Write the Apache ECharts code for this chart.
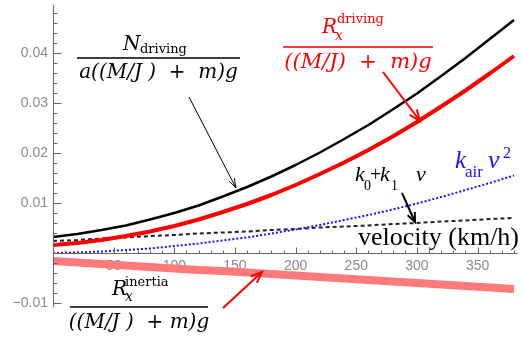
<!DOCTYPE html>
<html><head><meta charset="utf-8">
<script src="https://cdn.jsdelivr.net/npm/echarts@6/dist/echarts.min.js"></script>
<style>html,body{margin:0;padding:0;background:#fff;}#c{width:521px;height:341px;}</style>
</head><body><div id="c"></div>
<script>
// ---- data ----
const velocity = [0,20,40,60,80,100,120,140,160,180,200,220,240,260,280,300,320,340,360,380];
const nDriving = [0.0032,0.0038,0.0046,0.0055,0.0067,0.0080,0.0095,0.0113,0.0132,0.0153,0.0176,0.0201,0.0228,0.0256,0.0287,0.0319,0.0354,0.0390,0.0428,0.0466];
const rDriving = [0.0016,0.0020,0.0026,0.0034,0.0043,0.0054,0.0067,0.0082,0.0098,0.0116,0.0136,0.0158,0.0181,0.0206,0.0233,0.0262,0.0293,0.0325,0.0359,0.0394];
const rolling  = [0.0024,0.0026,0.0029,0.0031,0.0034,0.0036,0.0039,0.0041,0.0043,0.0046,0.0048,0.0051,0.0053,0.0055,0.0058,0.0060,0.0063,0.0065,0.0068,0.0070];
const airDrag  = [0,0.0001,0.0003,0.0006,0.0009,0.0014,0.0019,0.0025,0.0031,0.0039,0.0047,0.0056,0.0066,0.0076,0.0087,0.0099,0.0112,0.0126,0.0140,0.0155];
const rInertia = [-0.0016,-0.0019,-0.0022,-0.0025,-0.0028,-0.0031,-0.0034,-0.0036,-0.0039,-0.0042,-0.0045,-0.0048,-0.0051,-0.0054,-0.0057,-0.0060,-0.0063,-0.0066,-0.0069,-0.0072];
const xTickLabels = [50,100,150,200,250,300,350];
const yTickLabels = [-0.01,0.01,0.02,0.03,0.04];
const xAxisRange = [0,383];          // drawn extent of the horizontal axis
const yAxisRange = [-0.0108,0.0496]; // drawn extent of the vertical axis

const pairs = arr => velocity.map((v,i)=>[v,arr[i]]);

const DV = '"DejaVu Serif"';
const LS = '"Liberation Serif"';
function tx(str, x, baseline, size, family, fstyle, color, align){
  return {type:'text', x:x, y:baseline - 0.34*size, z:100,
    style:{text:str, font:(fstyle||'normal')+' '+size+'px '+family, fill:color||'#000',
      align:align||'left', verticalAlign:'middle'}};
}
function hline(x1,x2,y,color){
  return {type:'line', z:100, shape:{x1:x1,y1:y,x2:x2,y2:y}, style:{stroke:color, lineWidth:1.3}};
}
function arrow(x1,y1,x2,y2,color,w,len,ang){
  const a = Math.atan2(y2-y1,x2-x1);
  const p1=[x2-len*Math.cos(a-ang), y2-len*Math.sin(a-ang)];
  const p2=[x2-len*Math.cos(a+ang), y2-len*Math.sin(a+ang)];
  return [
    {type:'line', z:100, shape:{x1:x1,y1:y1,x2:x2,y2:y2}, style:{stroke:color,lineWidth:w}},
    {type:'polyline', z:100, shape:{points:[p1,[x2,y2],p2]}, style:{stroke:color,lineWidth:w,fill:null}}
  ];
}

const RED = '#ff0000', BLUE = '#1515ff';
const graphics = [].concat(
  // N_driving fraction
  [tx('N',123,52,20,DV,'italic','#000'),
   tx('driving',140,54,13,DV,'normal','#000'),
   hline(77,240,58,'#000'),
   tx('a((M/J )  +  m)g',158.5,80,20,DV,'italic','#000','center')],
  // R_x^driving fraction
  [tx('R',322,35,20,DV,'italic',RED),
   tx('x',335,41,14,DV,'italic',RED),
   tx('driving',337,24,13,DV,'normal',RED),
   hline(283,433,47,RED),
   tx('((M/J)  +  m)g',358,70,21,DV,'italic',RED,'center')],
  // R_x^inertia fraction
  [tx('R',112,297,20,DV,'italic','#000'),
   tx('x',125,302,14,DV,'italic','#000'),
   tx('inertia',125,287,13,DV,'normal','#000'),
   hline(70,208,307,'#000'),
   tx('((M/J )  + m)g',139,330,20,DV,'italic','#000','center')],
  // k0 + k1 v
  [tx('k',355,183,22,LS,'italic','#000'),
   tx('0',364,191,14,LS,'normal','#000'),
   tx('+',370,183,20,LS,'normal','#000'),
   tx('k',380,183,22,LS,'italic','#000'),
   tx('1',391,191,14,LS,'normal','#000'),
   tx('v',416,183,22,LS,'italic','#000')],
  // k_air v^2
  [tx('k',455,170,25,LS,'italic',BLUE),
   tx('air',465,178,17,LS,'normal',BLUE),
   tx('v',488,170,26,LS,'italic',BLUE),
   tx('2',503,159,16,LS,'normal',BLUE)],
  // axis name
  [tx('velocity (km/h)',358,247,26,LS,'normal','#000')],
  arrow(189,97,236,188,'#000',1,10,0.3),
  arrow(383,72,420,121,RED,2,12,0.38),
  arrow(223,308,262,272,RED,2,12,0.38),
  arrow(402,193,415,222,'#000',2,10,0.4)
);

const axisGray = '#666';
const labelGray = '#8a8a8a';
const chart = echarts.init(document.getElementById('c'), null, {renderer:'canvas'});
chart.setOption({
  animation:false,
  backgroundColor:'#fff',
  grid:{left:53, top:3, width:461, height:300},
  xAxis:{type:'value', min:0, max:380, interval:50, position:'bottom', offset:-50,
    axisLine:{show:false, onZero:false},
    axisTick:{show:false},
    splitLine:{show:false},
    axisLabel:{color:labelGray, fontSize:14, fontFamily:'"Liberation Sans"', margin:6,
      formatter:v=> xTickLabels.includes(Math.round(v)) ? String(Math.round(v)) : ''}
  },
  yAxis:{type:'value', min:-0.01, max:0.05, interval:0.01, position:'left',
    axisLine:{show:false, onZero:false},
    axisTick:{show:false},
    splitLine:{show:false},
    axisLabel:{color:labelGray, fontSize:14, fontFamily:'"Liberation Sans"', margin:5,
      formatter:v=>{const r=Math.round(v*100)/100; if(!yTickLabels.includes(r)) return '';
        return (r<0?'\u2212':'')+Math.abs(r).toFixed(2);}}
  },
  series:[
    {type:'line', data:pairs(rInertia), showSymbol:false, lineStyle:{color:'#ff7b7b', width:8}, z:2},
    {type:'line', data:pairs(rolling), showSymbol:false, lineStyle:{color:'#222', width:2, type:[4,3]}, z:3},
    {type:'line', data:pairs(airDrag), showSymbol:false, lineStyle:{color:BLUE, width:2, type:[2,2]}, z:4},
    {type:'line', data:pairs(rDriving), showSymbol:false, lineStyle:{color:RED, width:4}, z:5},
    {type:'line', data:pairs(nDriving), showSymbol:false, lineStyle:{color:'#000', width:2.5}, z:6}
  ]
});

// axis lines and ticks, placed through the chart's own scales
const toPx = (x,y)=>chart.convertToPixel({gridIndex:0},[x,y]);
const crisp = v => Math.round(v)+0.5;
const axisEls = [];
const o = toPx(0,0);
const x0 = crisp(o[0]), y0 = crisp(o[1]);
const yTop = toPx(0,yAxisRange[1])[1], yBot = toPx(0,yAxisRange[0])[1];
const xEnd = toPx(xAxisRange[1],0)[0];
axisEls.push({type:'line', z:50, shape:{x1:x0,y1:yTop,x2:x0,y2:yBot}, style:{stroke:axisGray,lineWidth:1}});
axisEls.push({type:'line', z:50, shape:{x1:o[0],y1:y0,x2:xEnd,y2:y0}, style:{stroke:axisGray,lineWidth:1}});
for (let k=1; k*10<=xAxisRange[1]; k++){
  const px = crisp(toPx(k*10,0)[0]);
  const len = (k%5===0)?6:3;
  axisEls.push({type:'line', z:50, shape:{x1:px,y1:y0,x2:px,y2:y0-len}, style:{stroke:axisGray,lineWidth:1}});
}
for (let k=-5; k*0.002<=yAxisRange[1]; k++){
  if (k===0) continue;
  const py = crisp(toPx(0,k*0.002)[1]);
  const len = (k%5===0)?8:4;
  axisEls.push({type:'line', z:50, shape:{x1:x0,y1:py,x2:x0+len,y2:py}, style:{stroke:axisGray,lineWidth:1}});
}
chart.setOption({graphic: graphics.concat(axisEls)});
</script>
</body></html>
